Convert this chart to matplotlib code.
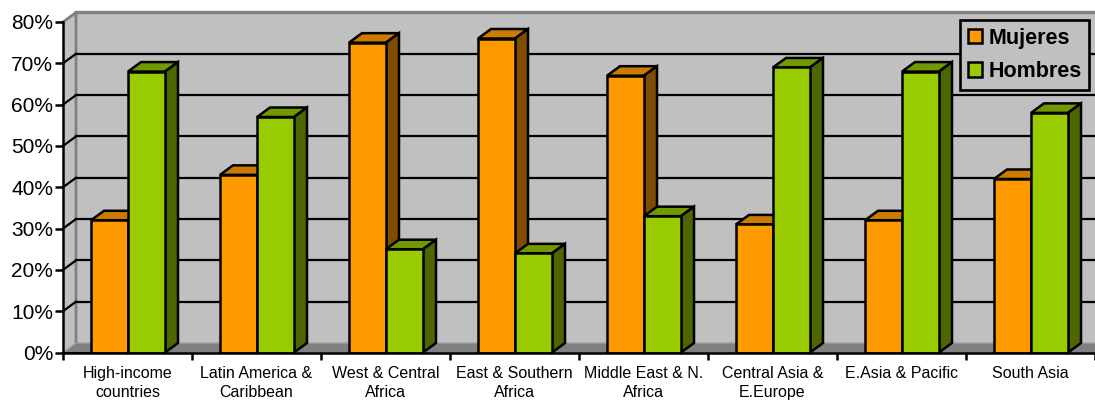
import numpy as np
import matplotlib
matplotlib.use('Agg')
import matplotlib.pyplot as plt
from matplotlib.patches import Polygon

plt.rcParams['font.family'] = ['Liberation Sans', 'DejaVu Sans']

categories = ['High-income\ncountries', 'Latin America &\nCaribbean', 'West & Central\nAfrica',
              'East & Southern\nAfrica', 'Middle East & N.\nAfrica', 'Central Asia &\nE.Europe',
              'E.Asia & Pacific', 'South Asia']
mujeres = [32, 43, 75, 76, 67, 31, 32, 42]
hombres = [68, 57, 25, 24, 33, 69, 68, 58]
yticks = [0, 10, 20, 30, 40, 50, 60, 70, 80]

# depth of the fake 3d, in data units
dx = 13 / 129
dy = 9.5 / 4.13
bar_w = 37 / 129
n = len(categories)
edge = 1.8

fig = plt.figure(figsize=(10.95, 4), dpi=100)
ax = fig.add_axes([63 / 1095, (400 - 352.5) / 400, (1095 - 63) / 1095, 330.5 / 400])
ax.set_xlim(0, n)
ax.set_ylim(0, 80)
for s in ['top', 'right']:
    ax.spines[s].set_visible(False)
for s in ['left', 'bottom']:
    ax.spines[s].set_linewidth(edge)
ax.patch.set_alpha(0)


def poly(pts, fc, ec='none', lw=0, z=1):
    ax.add_patch(Polygon(pts, closed=True, facecolor=fc, edgecolor=ec, linewidth=lw,
                         zorder=z, clip_on=False, joinstyle='miter'))


# walls and floor
poly([(dx, dy), (n + dx, dy), (n + dx, 80 + dy), (dx, 80 + dy)], '#c0c0c0')
poly([(0, 0), (dx, dy), (dx, 80 + dy), (0, 80)], '#c0c0c0')
poly([(0, 0), (n + dx, 0), (n + dx, dy), (dx, dy)], '#808080')
ax.plot([0, dx, dx], [80, 80 + dy, dy], color='#808080', lw=2, zorder=1.5, clip_on=False)
ax.plot([dx, n + dx], [80 + dy, 80 + dy], color='#808080', lw=2.4, zorder=1.5, clip_on=False)
ax.plot([0, dx, n + dx], [0, dy, dy], color='#a0a0a0', lw=1, zorder=1.5, clip_on=False)

# gridlines
for v in yticks[1:-1]:
    ax.plot([0, dx], [v, v + dy], color='black', lw=1.6, zorder=2, clip_on=False)
    ax.plot([dx, n + dx], [v + dy, v + dy], color='black', lw=1.6, zorder=2, clip_on=False)


def bar3d(x0, val, front, top, side, z):
    ax.bar(x0, val, bar_w, align='edge', color=front, edgecolor='black', linewidth=edge, zorder=z + 0.2)
    poly([(x0, val), (x0 + bar_w, val), (x0 + bar_w + dx, val + dy), (x0 + dx, val + dy)],
         top, 'black', edge, z + 0.1)
    poly([(x0 + bar_w, 0), (x0 + bar_w + dx, dy), (x0 + bar_w + dx, val + dy), (x0 + bar_w, val)],
         side, 'black', edge, z + 0.1)


offset = 28 / 129
for i in range(n):
    bar3d(i + offset, mujeres[i], '#ff9900', '#cc7a00', '#804d00', 3 + i)
    bar3d(i + offset + bar_w, hombres[i], '#99cc00', '#739900', '#4d6600', 3.5 + i)

for s in ['left', 'bottom']:
    ax.spines[s].set_zorder(20)

ax.set_yticks(yticks)
ax.set_yticklabels([str(v) + '%' for v in yticks], fontsize=15)
ax.set_xticks(np.arange(n + 1))
ax.set_xticklabels([])
ax.set_xticks(np.arange(n) + 0.5, categories, minor=True, fontsize=11.5, linespacing=1.4)
ax.tick_params(axis='y', length=6, width=edge, pad=1, colors='black')
ax.tick_params(axis='x', which='major', length=5, width=edge)
ax.tick_params(axis='x', which='minor', length=0, pad=9.5)

h1 = ax.bar(0, 0, color='#ff9900', edgecolor='black', linewidth=edge, label='Mujeres')
h2 = ax.bar(0, 0, color='#99cc00', edgecolor='black', linewidth=edge, label='Hombres')
leg = fig.legend(handles=[h1, h2], loc='upper left', bbox_to_anchor=(960 / 1095, 1 - 20 / 400),
                 borderaxespad=0, fancybox=False, framealpha=1, facecolor='#c0c0c0', edgecolor='black',
                 prop={'weight': 'bold', 'size': 15.5}, handlelength=0.65, handleheight=0.65,
                 handletextpad=0.3, labelspacing=0.58, borderpad=0.36)
leg.get_frame().set_linewidth(1.9)
leg.set_zorder(30)

fig.savefig('out.png', dpi=100)
